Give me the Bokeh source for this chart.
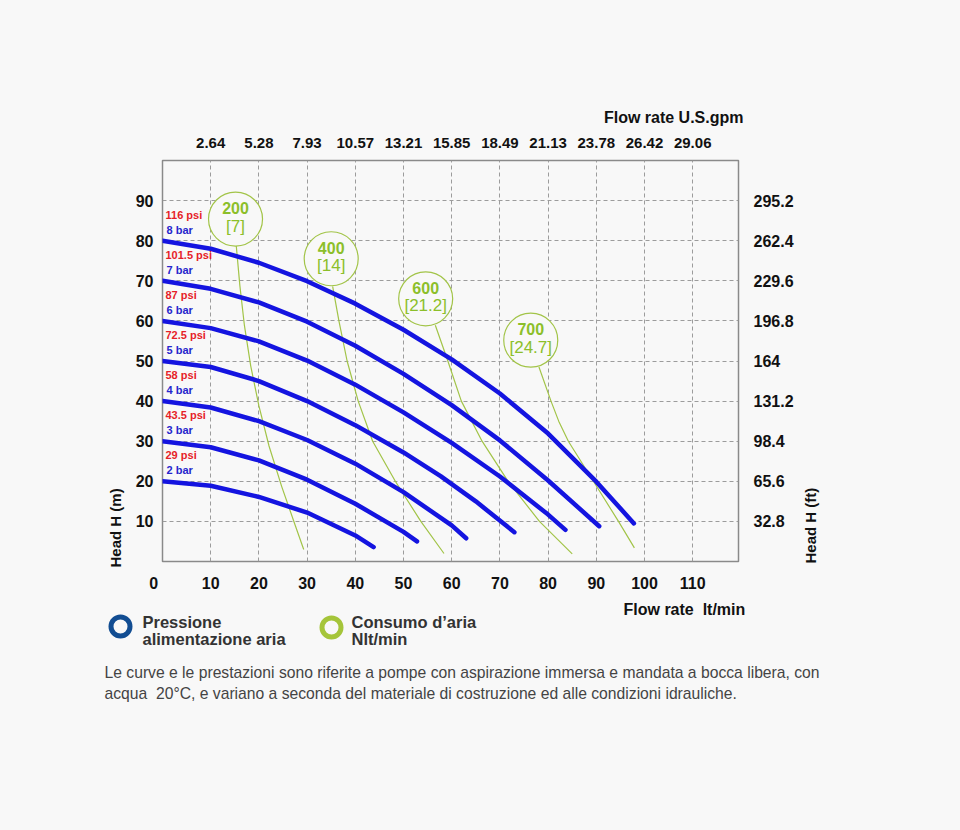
import numpy as np
from bokeh.plotting import figure
from bokeh.models import Range1d, LinearAxis, FixedTicker, Title
from bokeh.layouts import column, row
from bokeh.embed import file_html
from bokeh.resources import INLINE
from bokeh.core.properties import value

BG = "#f8f8f8"
FONT = "Liberation Sans"
BLUE = "#1414e0"
RED = "#e61e28"
BARBLUE = "#2626cc"
GREEN_TXT = "#8cbf2a"
GREEN_LINE = "#a2c448"
NB = "\u00a0"

# ---------------- data ----------------
flow_ticks = [0, 10, 20, 30, 40, 50, 60, 70, 80, 90, 100, 110]
gpm_labels = ["2.64", "5.28", "7.93", "10.57", "13.21", "15.85", "18.49",
              "21.13", "23.78", "26.42", "29.06"]
head_ticks = [10, 20, 30, 40, 50, 60, 70, 80, 90]
ft_labels = ["32.8", "65.6", "98.4", "131.2", "164", "196.8", "229.6", "262.4", "295.2"]

bar_labels = ["8 bar", "7 bar", "6 bar", "5 bar", "4 bar", "3 bar", "2 bar"]
psi_labels = ["116 psi", "101.5 psi", "87 psi", "72.5 psi", "58 psi", "43.5 psi", "29 psi"]

q8 = [0, 10, 20, 30, 40, 50, 60, 70, 80, 90, 97.8]
h8 = [80, 78, 74.5, 69.9, 64.3, 57.8, 50.4, 41.9, 31.9, 19.9, 9.5]
q7 = [0, 10, 20, 30, 40, 50, 60, 70, 80, 90.6]
h7 = [70, 68, 64.6, 59.8, 53.8, 46.8, 39, 30.2, 20.2, 8.8]
q6 = [0, 10, 20, 30, 40, 50, 60, 70, 80, 83.6]
h6 = [60, 58.2, 54.9, 50.1, 44.1, 37.2, 29.6, 21.2, 11.7, 7.9]
q5 = [0, 10, 20, 30, 40, 50, 57.7, 65, 73]
h5 = [50, 48.5, 45, 40, 34, 27.2, 21.3, 15, 7.3]
q4 = [0, 10, 20, 30, 40, 50, 60, 63]
h4 = [40, 38.4, 35, 30.3, 24.4, 17.3, 9, 5.8]
q3 = [0, 10, 20, 30, 40, 50, 52.8]
h3 = [30, 28.5, 25.2, 20.4, 14.4, 7.4, 5.0]
q2 = [0, 10, 20, 30, 40, 43.8]
h2 = [20, 18.9, 16.1, 12.2, 6.5, 3.6]
pressure_q = [q8, q7, q6, q5, q4, q3, q2]
pressure_h = [h8, h7, h6, h5, h4, h3, h2]

air_nlt = ["200", "400", "600", "700"]
air_cfm = ["[7]", "[14]", "[21.2]", "[24.7]"]
air_cx = [15.15, 35.0, 54.6, 76.4]
air_cy = [85.4, 75.5, 65.5, 55.2]

c200_q = [15.3, 16.05, 17.0, 18.3, 20.0, 22.1, 24.7, 27.6, 29.3]
c200_h = [78.8, 68.8, 58.8, 48.8, 38.8, 28.8, 18.8, 8.8, 3]
c400_q = [35.3, 36.6, 38.3, 40.6, 43.6, 48.3, 53.6, 58.4]
c400_h = [68.6, 60, 50, 40, 30, 20, 10, 2]
c600_q = [56.6, 59.2, 62.0, 66.3, 71.7, 78.2, 85]
c600_h = [58.9, 50, 40, 30, 20, 10, 1.9]
c700_q = [78.1, 80.6, 82.2, 84.2, 89.4, 94.6, 97.9]
c700_h = [48.5, 40, 35, 30, 20, 10, 3.4]
air_q = [c200_q, c400_q, c600_q, c700_q]
air_h = [c200_h, c400_h, c600_h, c700_h]

# ---------------- main chart ----------------
p = figure(width=800, height=600, x_range=Range1d(0, 119.5), y_range=Range1d(0, 100),
           output_backend="svg", toolbar_location=None,
           min_border_left=162, min_border_right=62, min_border_top=160, min_border_bottom=39,
           background_fill_color=BG, border_fill_color=BG)
p.outline_line_color = "#8a8a8a"
p.outline_line_width = 1.5
p.frame_align = False


def style_axis(ax, size, standoff):
    ax.axis_line_color = None
    ax.major_tick_line_color = None
    ax.minor_tick_line_color = None
    ax.major_tick_out = 0
    ax.major_tick_in = 0
    ax.major_label_standoff = standoff
    ax.major_label_text_font = FONT
    ax.major_label_text_font_style = "bold"
    ax.major_label_text_font_size = size
    ax.major_label_text_color = "#111111"


p.xaxis.ticker = FixedTicker(ticks=flow_ticks)
p.xaxis.major_label_overrides = {0: "0" + NB * 4}
p.yaxis.ticker = FixedTicker(ticks=head_ticks)
style_axis(p.xaxis[0], "16px", 13)
style_axis(p.yaxis[0], "16px", 9)

top_ax = LinearAxis(ticker=FixedTicker(ticks=flow_ticks[1:]),
                    major_label_overrides={t: l for t, l in zip(flow_ticks[1:], gpm_labels)})
style_axis(top_ax, "15px", 13)
p.add_layout(top_ax, "above")

right_ax = LinearAxis(ticker=FixedTicker(ticks=head_ticks),
                      major_label_overrides={t: l for t, l in zip(head_ticks, ft_labels)})
style_axis(right_ax, "16px", 15)
p.add_layout(right_ax, "right")

p.add_layout(Title(text="Flow rate U.S.gpm", align="right", offset=-5, standoff=17,
                   text_font=FONT, text_font_style="bold", text_font_size="16px",
                   text_color="#111111"), "above")
p.add_layout(Title(text="Head H (m)", align="left", offset=-6, standoff=17,
                   text_font=FONT, text_font_style="bold", text_font_size="15px",
                   text_color="#111111"), "left")

p.xgrid.ticker = FixedTicker(ticks=flow_ticks[1:])
p.ygrid.ticker = FixedTicker(ticks=head_ticks)
for g in (p.xgrid[0], p.ygrid[0]):
    g.grid_line_color = "#9c9c9c"
    g.grid_line_dash = "4 3"
    g.grid_line_width = 1

# air consumption lines
for q, h in zip(air_q, air_h):
    p.line(q, h, line_color=GREEN_LINE, line_width=1.2)
p.scatter(x=air_cx, y=air_cy, marker="circle", size=54, fill_color=BG,
          line_color=GREEN_LINE, line_width=1.2)
p.text(x=air_cx, y=air_cy, text=air_nlt, y_offset=-11, text_align="center",
       text_baseline="middle", text_font=value(FONT), text_font_style="bold",
       text_font_size=value("16px"), text_color=GREEN_TXT)
p.text(x=air_cx, y=air_cy, text=air_cfm, y_offset=7, text_align="center",
       text_baseline="middle", text_font=value(FONT), text_font_style="normal",
       text_font_size=value("17px"), text_color=GREEN_TXT)

# pressure curves
for q, h in zip(pressure_q, pressure_h):
    p.line(q, h, line_color=BLUE, line_width=4.5, line_cap="round", line_join="round")

h0 = [h[0] for h in pressure_h]
x0 = [q[0] for q in pressure_q]
p.text(x=x0, y=h0, text=psi_labels, x_offset=3, y_offset=-26, text_align="left",
       text_baseline="middle", text_font=value(FONT), text_font_style="bold",
       text_font_size=value("11px"), text_color=RED)
p.text(x=x0, y=h0, text=bar_labels, x_offset=4, y_offset=-11, text_align="left",
       text_baseline="middle", text_font=value(FONT), text_font_style="bold",
       text_font_size=value("11px"), text_color=BARBLUE)

# ---------------- right-hand title strip ----------------
p3 = figure(width=160, height=600, x_range=Range1d(800, 960), y_range=Range1d(0, 600),
            output_backend="svg", toolbar_location=None, min_border=0,
            x_axis_location=None, y_axis_location=None,
            background_fill_color=BG, border_fill_color=BG)
p3.grid.visible = False
p3.outline_line_color = None
p3.frame_align = False
p3.text(x=[810], y=[37], text=["Head H (ft)"], angle=np.pi / 2, text_align="left",
        text_baseline="middle", text_font=value(FONT), text_font_style="bold",
        text_font_size=value("15px"), text_color="#111111")

# ---------------- legend / note ----------------
p2 = figure(width=960, height=130, x_range=Range1d(0, 960), y_range=Range1d(130, 0),
            output_backend="svg", toolbar_location=None, min_border=0,
            x_axis_location=None, y_axis_location=None,
            background_fill_color=BG, border_fill_color=BG)
p2.grid.visible = False
p2.outline_line_color = None
p2.frame_align = False

p2.text(x=[623], y=[9], text=["Flow rate" + NB + " lt/min"], text_align="left",
        text_baseline="middle", text_font=value(FONT), text_font_style="bold",
        text_font_size=value("16px"), text_color="#111111")
p2.scatter(x=[120], y=[26], marker="circle", size=19, fill_color=None,
           line_color="#124d92", line_width=5)
p2.scatter(x=[331], y=[27], marker="circle", size=19, fill_color=None,
           line_color="#a5c53a", line_width=5)
p2.text(x=[142, 142, 351, 351], y=[21, 38, 21, 38],
        text=["Pressione", "alimentazione aria", "Consumo d\u2019aria", "Nlt/min"],
        text_align="left", text_baseline="middle", text_font=value(FONT),
        text_font_style="bold", text_font_size=value("16.5px"), text_color="#333333")
p2.text(x=[104, 104], y=[72, 93],
        text=["Le curve e le prestazioni sono riferite a pompe con aspirazione immersa e mandata a bocca libera, con",
              "acqua" + NB + " 20\u00b0C, e variano a seconda del materiale di costruzione ed alle condizioni idrauliche."],
        text_align="left", text_baseline="middle", text_font=value(FONT),
        text_font_style="normal", text_font_size=value("15.7px"), text_color="#444444")

layout = column(row(p, p3), p2)
html = file_html(layout, INLINE)
html = html.replace("</head>", "<style>body{background:#f8f8f8;}</style></head>", 1)
open("out.html", "w").write(html)
